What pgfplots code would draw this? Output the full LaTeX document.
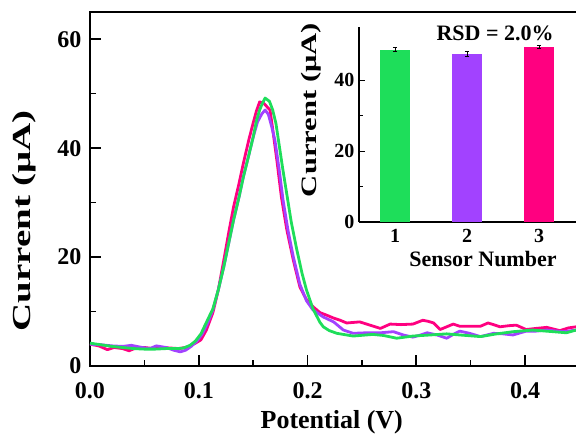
\documentclass[border=0pt]{standalone}
\usepackage{fontspec}
\setmainfont{Liberation Serif}
\usepackage{graphicx}
\usepackage{pgfplots}
\pgfplotsset{compat=1.18}
\definecolor{cgreen}{RGB}{30,222,90}
\definecolor{cpurple}{RGB}{162,66,255}
\definecolor{cpink}{RGB}{255,0,128}
\begin{document}
\begin{tikzpicture}
\useasboundingbox (-90pt,-74pt) rectangle (486pt,366pt);
\begin{axis}[
  scale only axis, width=489.4pt, height=354pt,
  xmin=0, xmax=0.45, ymin=0, ymax=65,
  xtick={0,0.1,0.2,0.3,0.4}, ytick={0,20,40,60},
  minor x tick num=1, minor y tick num=1,
  xtick pos=bottom, ytick pos=left,
  tick align=inside,
  major tick length=11pt, minor tick length=6pt,
  every tick/.style={black, line width=1.6pt},
  axis line style={line width=2pt},
  /pgf/number format/assume math mode=true,
  xticklabel style={yshift=-13pt, /pgf/number format/.cd, fixed, fixed zerofill, precision=1},
  yticklabel style={xshift=-5pt, /pgf/number format/.cd, fixed, precision=0},
  tick label style={font=\fontsize{24}{24}\selectfont\bfseries},
  label style={font=\fontsize{26}{26}\selectfont\bfseries},
  xlabel={Potential (V)},
  ylabel={\scalebox{1.5}[1]{Current (μA)}},
  xlabel style={at={(axis description cs:0.494,-0.158)}, anchor=center},
  ylabel style={at={(axis description cs:-0.135,0.41)}, anchor=center},
  every axis plot/.append style={line width=2.8pt, line join=round, no markers},
]
\addplot[cpink] coordinates {
(0.000,4.0)(0.008,3.7)(0.016,3.0)(0.022,3.4)(0.030,3.2)(0.036,2.8)(0.042,3.3)(0.050,3.4)
(0.058,3.2)(0.066,3.4)(0.074,3.3)(0.082,3.2)(0.090,3.5)(0.097,4.2)(0.102,4.8)(0.107,6.6)
(0.113,9.8)(0.118,14)(0.123,19.4)(0.128,25)(0.132,29.2)(0.137,33.5)(0.141,37.2)(0.146,41.5)
(0.150,44.6)(0.153,46.8)(0.156,48.5)(0.160,48.2)(0.1655,47.0)(0.168,43.5)(0.172,37.5)(0.176,31)
(0.181,25)(0.187,19.4)(0.193,14.5)(0.199,12.2)(0.205,10.9)(0.2115,9.8)(0.218,9.3)(0.224,8.8)
(0.230,8.4)(0.236,7.9)(0.242,8.0)(0.248,8.1)(0.2575,7.5)(0.267,6.9)(0.276,7.7)(0.286,7.6)
(0.297,7.7)(0.306,8.4)(0.311,8.2)(0.316,7.9)(0.322,6.7)(0.328,7.2)(0.334,7.7)(0.340,7.3)
(0.350,7.3)(0.359,7.3)(0.366,7.9)(0.371,7.6)(0.377,7.2)(0.385,7.4)(0.392,7.5)(0.401,6.7)
(0.410,6.9)(0.420,7.1)(0.426,6.8)(0.432,6.5)(0.440,7.0)(0.447,7.2)(0.452,7.1)
};
\addplot[cpurple] coordinates {
(0.000,4.0)(0.010,3.9)(0.020,3.7)(0.030,3.6)(0.038,3.8)(0.048,3.4)(0.055,3.2)(0.061,3.7)
(0.070,3.4)(0.077,2.9)(0.083,2.6)(0.088,2.9)(0.093,3.6)(0.098,4.5)(0.103,5.8)(0.108,7.8)
(0.113,10.3)(0.118,14)(0.123,18.2)(0.128,23)(0.132,26.8)(0.137,31)(0.141,34.7)(0.146,38.7)
(0.150,42)(0.154,44.8)(0.158,46.3)(0.161,47.0)(0.164,46.2)(0.167,44)(0.170,41.5)(0.174,36)
(0.1775,30.5)(0.182,25)(0.187,20)(0.193,15)(0.199,12.0)(0.205,10.3)(0.2145,9.0)(0.224,8.1)
(0.233,6.6)(0.242,6.0)(0.254,6.1)(0.267,6.1)(0.279,6.3)(0.288,5.7)(0.297,5.3)(0.304,5.7)
(0.310,6.1)(0.319,5.7)(0.328,5.1)(0.334,5.8)(0.340,6.4)(0.349,6.0)(0.359,5.4)(0.371,6.0)
(0.380,5.9)(0.389,5.7)(0.401,6.4)(0.410,6.4)(0.420,6.6)(0.435,6.3)(0.447,6.6)(0.452,6.6)
};
\addplot[cgreen] coordinates {
(0.000,4.2)(0.010,3.9)(0.020,3.6)(0.030,3.4)(0.040,3.2)(0.050,3.1)(0.060,3.1)(0.070,3.2)
(0.080,3.2)(0.086,3.3)(0.092,3.8)(0.097,4.6)(0.102,5.9)(0.107,8.0)(0.113,10.5)(0.118,14)
(0.123,18.2)(0.128,23)(0.132,26.8)(0.137,31)(0.141,34.7)(0.146,38.7)(0.150,42)(0.153,45.0)
(0.156,47.0)(0.158,48.0)(0.161,49.2)(0.165,48.6)(0.168,47.0)(0.171,44.5)(0.174,40.5)(0.177,36.5)
(0.181,31.5)(0.185,26.5)(0.190,21.5)(0.195,17)(0.199,14.0)(0.205,10.5)(0.2115,8.0)(0.2145,7.2)
(0.220,6.5)(0.227,6.0)(0.242,5.5)(0.260,5.8)(0.270,5.6)(0.282,5.1)(0.297,5.5)(0.313,5.7)
(0.328,5.9)(0.340,5.7)(0.359,5.4)(0.374,5.9)(0.389,6.3)(0.407,6.6)(0.426,6.3)(0.438,6.1)
(0.447,6.6)(0.452,6.6)
};
\end{axis}
\begin{axis}[
  at={(269pt,144pt)}, anchor=south west,
  scale only axis, width=252pt, height=195pt,
  xmin=0.5, xmax=4.0, ymin=0, ymax=55,
  axis x line=bottom, axis y line=left,
  axis line style={-, line width=1.5pt},
  every outer x axis line/.append style={-},
  every outer y axis line/.append style={-},
  xtick={1,2,3}, ytick={0,20,40},
  minor y tick num=1,
  xtick style={draw=none},
  tick align=inside,
  major tick length=6pt, minor tick length=3.5pt,
  ytick style={black, line width=1pt},
  /pgf/number format/assume math mode=true,
  xticklabel style={yshift=-4pt},
  yticklabel style={xshift=-1pt},
  tick label style={font=\fontsize{20}{20}\selectfont\bfseries},
  label style={font=\fontsize{22}{22}\selectfont\bfseries},
  xlabel={Sensor Number},
  ylabel={\scalebox{1.39}[1]{Current (μA)}},
  xlabel style={at={(axis description cs:0.492,-0.188)}, anchor=center},
  ylabel style={at={(axis description cs:-0.19,0.574)}, anchor=center},
  clip=false,
]
\addplot[ybar, bar width=30pt, fill=cgreen, draw=none,
  error bars/.cd, y dir=both, y explicit,
  error bar style={black, line width=0.9pt},
  error mark options={rotate=90, mark size=2.2pt, black, line width=0.9pt}]
  coordinates {(1,48.6) +- (0,0.6)};
\addplot[ybar, bar width=30pt, fill=cpurple, draw=none,
  error bars/.cd, y dir=both, y explicit,
  error bar style={black, line width=0.9pt},
  error mark options={rotate=90, mark size=2.2pt, black, line width=0.9pt}]
  coordinates {(2,47.3) +- (0,0.7)};
\addplot[ybar, bar width=30pt, fill=cpink, draw=none,
  error bars/.cd, y dir=both, y explicit,
  error bar style={black, line width=0.9pt},
  error mark options={rotate=90, mark size=2.2pt, black, line width=0.9pt}]
  coordinates {(3,49.3) +- (0,0.4)};
\node[font=\fontsize{22}{22}\selectfont\bfseries] at (axis cs:2.39,53.2) {RSD = 2.0\%};
\end{axis}
\end{tikzpicture}
\end{document}
